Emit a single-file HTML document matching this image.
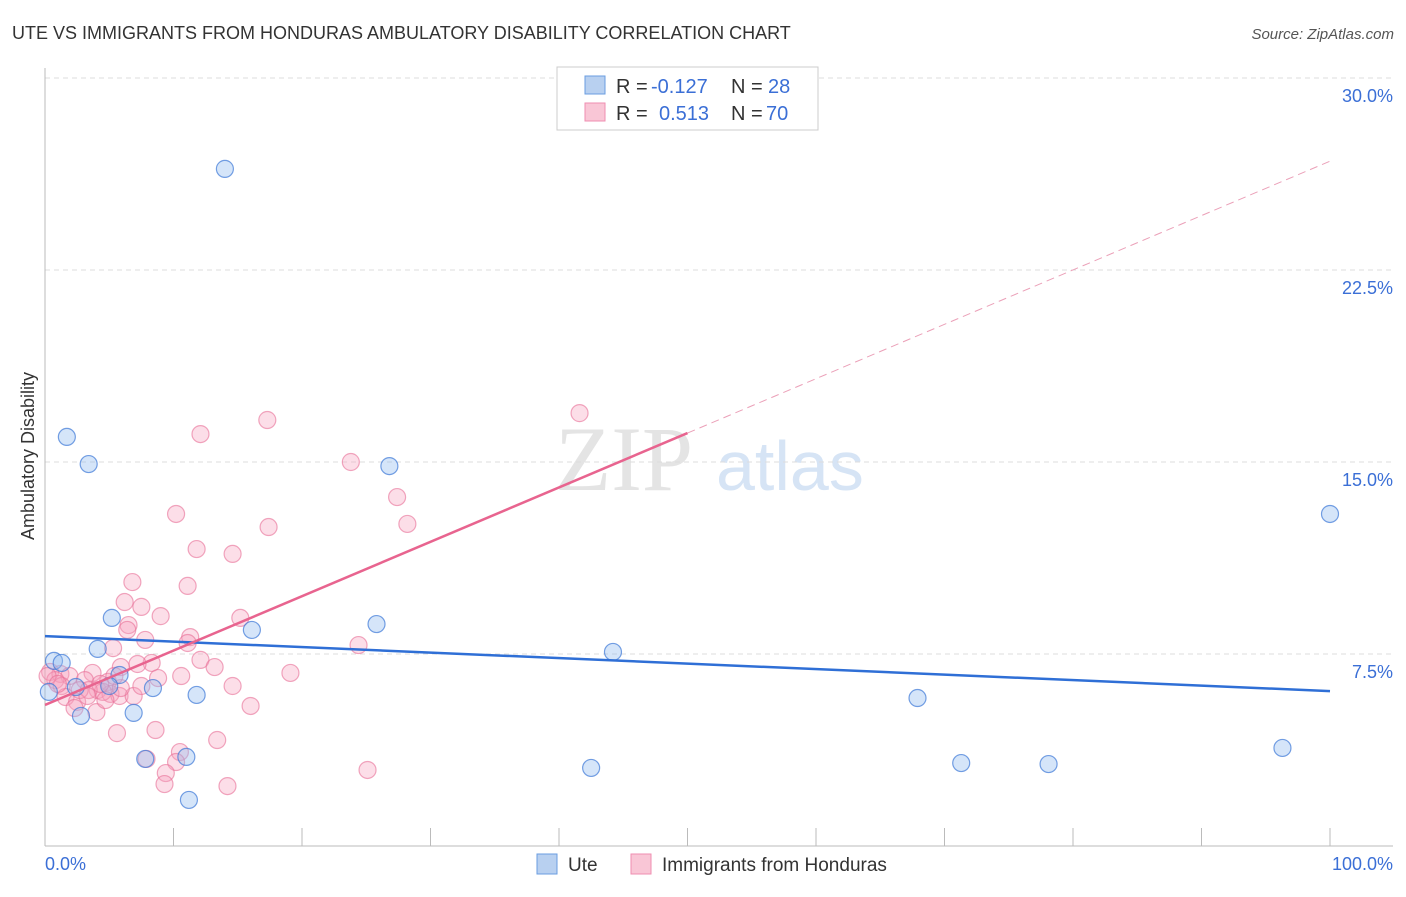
<!DOCTYPE html>
<html><head><meta charset="utf-8"><style>
body{margin:0;background:#fff;font-family:"Liberation Sans",sans-serif}
</style></head><body>
<svg id="chart" width="1406" height="892" xmlns="http://www.w3.org/2000/svg" font-family="Liberation Sans, sans-serif">
<text x="12" y="39" font-size="18" fill="#333">UTE VS IMMIGRANTS FROM HONDURAS AMBULATORY DISABILITY CORRELATION CHART</text>
<text x="1394" y="39" font-size="15" fill="#555" text-anchor="end" font-style="italic">Source: ZipAtlas.com</text>
<text x="555" y="490" font-size="92" fill="#e4e4e4" font-family="Liberation Serif, serif">ZIP</text>
<text x="716" y="490" font-size="70" fill="#d6e4f5">atlas</text>
<text transform="translate(34,456) rotate(-90)" font-size="18" fill="#333" text-anchor="middle">Ambulatory Disability</text>
<g id="grid"></g><g id="pts"></g><g id="lines"></g>
<g>
<rect x="557" y="67" width="261" height="63" fill="#fff" stroke="#ccc"/>
<rect x="585" y="76" width="20" height="18" fill="#b8d0f0" stroke="#6a9de0"/>
<rect x="585" y="103" width="20" height="18" fill="#f9c6d6" stroke="#ef8eb0"/>
<text x="616" y="93" font-size="20" fill="#333">R =</text><text x="651" y="93" font-size="20" fill="#3b6fd6">-0.127</text>
<text x="731" y="93" font-size="20" fill="#333">N =</text><text x="768" y="93" font-size="20" fill="#3b6fd6">28</text>
<text x="616" y="120" font-size="20" fill="#333">R =</text><text x="659" y="120" font-size="20" fill="#3b6fd6">0.513</text>
<text x="731" y="120" font-size="20" fill="#333">N =</text><text x="766" y="120" font-size="20" fill="#3b6fd6">70</text>
</g>
<g>
<rect x="537" y="854" width="20" height="20" fill="#b8d0f0" stroke="#6a9de0"/>
<text x="568" y="871" font-size="19" fill="#333">Ute</text>
<rect x="631" y="854" width="20" height="20" fill="#f9c6d6" stroke="#ef8eb0"/>
<text x="662" y="871" font-size="19" fill="#333">Immigrants from Honduras</text>
</g>
</svg>
<script>
const xTicks=[0,10,20,30,40,50,60,70,80,90,100];
const yTicks=[7.5,15,22.5,30];
const yTickLabels=["7.5%","15.0%","22.5%","30.0%"];
const uteX=[14.0,1.7,3.4,26.8,100,5.2,16.1,25.8,4.1,44.2,0.7,1.3,5.8,2.4,8.4,11.8,0.3,6.9,2.8,67.9,7.8,11.0,71.3,78.1,42.5,96.3,11.2,5.0];
const uteY=[26.45,15.98,14.92,14.84,12.97,8.91,8.44,8.67,7.70,7.58,7.23,7.15,6.68,6.21,6.17,5.90,6.02,5.20,5.08,5.78,3.40,3.48,3.24,3.20,3.05,3.83,1.80,6.25];
const honX=[41.6,17.3,12.1,23.8,27.4,10.2,17.4,28.2,11.8,14.6,6.8,11.1,6.2,7.5,9.0,15.2,6.5,6.4,11.3,7.8,11.1,24.4,5.3,8.3,7.2,12.1,13.2,5.9,19.1,10.6,8.8,14.6,3.7,0.4,1.2,1.9,0.8,1.3,3.1,4.1,4.9,5.1,5.8,6.9,4.5,3.4,1.6,2.5,2.3,4.0,16.0,8.6,5.6,13.4,10.5,10.2,7.9,9.4,9.3,14.2,25.1,0.2,1.0,4.3,2.7,4.7,7.5,5.9,3.3,5.4];
const honY=[16.91,16.64,16.09,15.0,13.63,12.97,12.46,12.58,11.6,11.41,10.31,10.16,9.53,9.34,8.98,8.91,8.63,8.44,8.16,8.05,7.93,7.85,7.73,7.15,7.11,7.27,6.99,6.99,6.76,6.64,6.56,6.25,6.76,6.80,6.72,6.64,6.48,6.25,6.48,6.09,6.41,5.94,5.86,5.86,6.02,6.09,5.82,5.63,5.39,5.23,5.47,4.53,4.41,4.14,3.67,3.28,3.40,2.85,2.42,2.34,2.97,6.64,6.33,6.33,6.09,5.70,6.25,6.17,5.86,6.64];
const uteTrend=[8.20,6.05];
const honTrend=[5.51,26.75];
const NS="http://www.w3.org/2000/svg";
const X=v=>45+v*12.85, Y=v=>846-v*25.6;
function mk(t,a,p){const e=document.createElementNS(NS,t);for(const k in a)e.setAttribute(k,a[k]);p.appendChild(e);return e;}
const g=document.getElementById('grid');
yTicks.forEach((t,i)=>{
 const l=mk('line',{x1:45,x2:1393,y1:Y(t),y2:Y(t),stroke:'#ddd','stroke-dasharray':'5,4'},g);
 
 
 const tx=mk('text',{x:1393,y:Y(t)+24,'font-size':18,fill:'#3b6fd6','text-anchor':'end'},g);
 tx.textContent=yTickLabels[i];
 
 
});
mk('line',{x1:45,x2:45,y1:68,y2:846,stroke:'#bbb'},g);
mk('line',{x1:45,x2:1393,y1:846,y2:846,stroke:'#bbb'},g);
xTicks.forEach(t=>{const l=mk('line',{x1:X(t),x2:X(t),y1:828,y2:846,stroke:'#bbb'},g);
 
 });
const a=mk('text',{x:45,y:870,'font-size':18,fill:'#3b6fd6'},g);a.textContent='0.0%';


const b=mk('text',{x:1393,y:870,'font-size':18,fill:'#3b6fd6','text-anchor':'end'},g);b.textContent='100.0%';


const p=document.getElementById('pts');
honX.forEach((x,i)=>{const c=mk('circle',{cx:X(x),cy:Y(honY[i]),r:8.5,fill:'rgba(245,160,188,0.35)',stroke:'rgba(232,110,150,0.6)','stroke-width':1.2},p);
 
 });
uteX.forEach((x,i)=>{const c=mk('circle',{cx:X(x),cy:Y(uteY[i]),r:8.5,fill:'rgba(150,190,240,0.4)',stroke:'rgba(60,120,215,0.7)','stroke-width':1.2},p);
 
 });
const L=document.getElementById('lines');
const u=mk('line',{x1:X(0),y1:Y(uteTrend[0]),x2:X(100),y2:Y(uteTrend[1]),stroke:'#2f6fd6','stroke-width':2.5},L);


const hm=v=>honTrend[0]+(honTrend[1]-honTrend[0])*v/100;
const h=mk('line',{x1:X(0),y1:Y(hm(0)),x2:X(50),y2:Y(hm(50)),stroke:'#e8648f','stroke-width':2.5},L);


const hd=mk('line',{x1:X(50),y1:Y(hm(50)),x2:X(100),y2:Y(hm(100)),stroke:'#eba0b8','stroke-width':1,'stroke-dasharray':'8,5'},L);


</script>
</body></html>
